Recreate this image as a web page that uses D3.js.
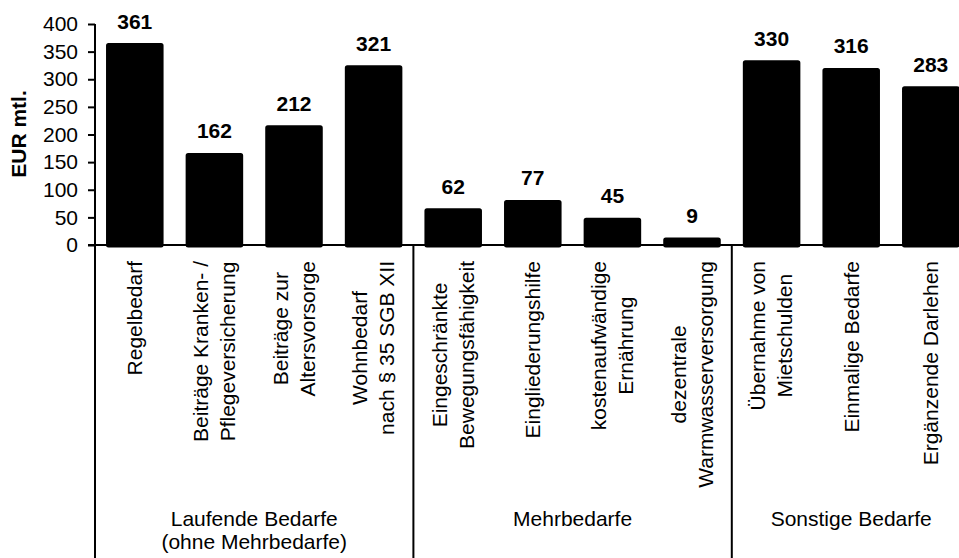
<!DOCTYPE html>
<html>
<head>
<meta charset="utf-8">
<script src="https://cdn.jsdelivr.net/npm/d3@7"></script>
<style>
  html, body { margin: 0; padding: 0; background: #fff; }
  svg { display: block; font-family: "Liberation Sans", Arial, sans-serif; }
</style>
</head>
<body>
<div id="chart"></div>
<script>
// Chart data
var categories = [
  'Regelbedarf',
  'Beiträge Kranken- /\nPflegeversicherung',
  'Beiträge zur\nAltersvorsorge',
  'Wohnbedarf\nnach § 35 SGB XII',
  'Eingeschränkte\nBewegungsfähigkeit',
  'Eingliederungshilfe',
  'kostenaufwändige\nErnährung',
  'dezentrale\nWarmwasserversorgung',
  'Übernahme von\nMietschulden',
  'Einmalige Bedarfe',
  'Ergänzende Darlehen'
]
var values = [361, 162, 212, 321, 62, 77, 45, 9, 330, 316, 283]
var groupNames = ['Laufende Bedarfe\n(ohne Mehrbedarfe)', 'Mehrbedarfe', 'Sonstige Bedarfe']
var groupSizes = [4, 4, 3]
var yTicks = [0, 50, 100, 150, 200, 250, 300, 350, 400]
var yTitle = 'EUR mtl.'

var W = 959, H = 558
var fs = '21px'

var svg = d3.select('#chart').append('svg')
  .attr('width', W)
  .attr('height', H)

// Scales
var x = d3.scaleBand()
  .domain(d3.range(categories.length))
  .range([95, 970.6])
  .paddingInner(0.34)
  .paddingOuter(0.17)

var y = d3.scaleLinear()
  .domain([0, 400])
  .range([245, 24])

// Bars
svg.append('g').selectAll('rect')
  .data(values)
  .enter().append('rect')
    .attr('x', function(d, i) { return x(i) })
    .attr('y', function(d) { return y(d) })
    .attr('width', x.bandwidth())
    .attr('height', function(d) { return y(0) - y(d) })
    .attr('fill', '#000')
    .attr('stroke', '#000')
    .attr('stroke-width', 5)
    .attr('stroke-linejoin', 'round')

// Value labels
svg.append('g').selectAll('text')
  .data(values)
  .enter().append('text')
    .attr('x', function(d, i) { return x(i) + x.bandwidth() / 2 })
    .attr('y', function(d) { return y(d) - 17 })
    .attr('text-anchor', 'middle')
    .attr('font-size', fs)
    .attr('font-weight', 'bold')
    .attr('fill', '#000')
    .text(function(d) { return d })

// Y axis
var yAxis = svg.append('g')
  .attr('transform', 'translate(95,0)')
  .call(d3.axisLeft(y).tickValues(yTicks).tickSize(7).tickPadding(10))
yAxis.select('.domain').remove()
yAxis.selectAll('.tick line').attr('stroke', '#000').attr('stroke-width', 2)
yAxis.selectAll('.tick text')
  .attr('font-size', fs)
  .attr('font-family', '"Liberation Sans", Arial, sans-serif')
  .attr('fill', '#000')

svg.append('text')
  .attr('transform', 'translate(19,134) rotate(-90)')
  .attr('dy', '0.35em')
  .attr('text-anchor', 'middle')
  .attr('font-size', fs)
  .attr('font-weight', 'bold')
  .text(yTitle)

// Axis lines and group separators
var lines = svg.append('g').attr('stroke', '#000').attr('stroke-width', 2)
lines.append('line')
  .attr('x1', 88).attr('x2', W)
  .attr('y1', y(0)).attr('y2', y(0))
lines.append('line')
  .attr('x1', 95).attr('x2', 95)
  .attr('y1', y(400)).attr('y2', H)

var start = 0
var groupBounds = []
groupSizes.forEach(function(n) {
  var x0 = start === 0 ? x.range()[0] : x(start) - x.step() * x.paddingInner() / 2
  var end = start + n
  var x1 = end >= categories.length ? x.range()[1] : x(end) - x.step() * x.paddingInner() / 2
  groupBounds.push([x0, x1])
  start = end
})
groupBounds.slice(1).forEach(function(b) {
  lines.append('line')
    .attr('x1', b[0]).attr('x2', b[0])
    .attr('y1', y(0)).attr('y2', H)
})

// Category labels (rotated, block aligned to the top, lines centred)
var labelTop = 261
var lineGap = 27
categories.forEach(function(c, i) {
  var parts = c.split('\n')
  var cx = x(i) + x.bandwidth() / 2
  var g = svg.append('g')
  var texts = parts.map(function(p, k) {
    var off = (k - (parts.length - 1) / 2) * lineGap
    return g.append('text')
      .attr('font-size', fs)
      .attr('fill', '#000')
      .attr('text-anchor', 'middle')
      .attr('dy', '0.35em')
      .attr('data-off', off)
      .text(p)
  })
  var maxLen = d3.max(texts, function(t) { return t.node().getComputedTextLength() })
  texts.forEach(function(t) {
    var off = +t.attr('data-off')
    t.attr('transform', 'translate(' + (cx + off) + ',' + (labelTop + maxLen / 2) + ') rotate(-90)')
  })
})

// Group labels
groupNames.forEach(function(name, i) {
  var b = groupBounds[i]
  var t = svg.append('text')
    .attr('x', (b[0] + b[1]) / 2)
    .attr('y', 526)
    .attr('text-anchor', 'middle')
    .attr('font-size', fs)
    .attr('fill', '#000')
  name.split('\n').forEach(function(p, k) {
    t.append('tspan')
      .attr('x', (b[0] + b[1]) / 2)
      .attr('dy', k === 0 ? 0 : 23)
      .text(p)
  })
})
</script>
</body>
</html>
